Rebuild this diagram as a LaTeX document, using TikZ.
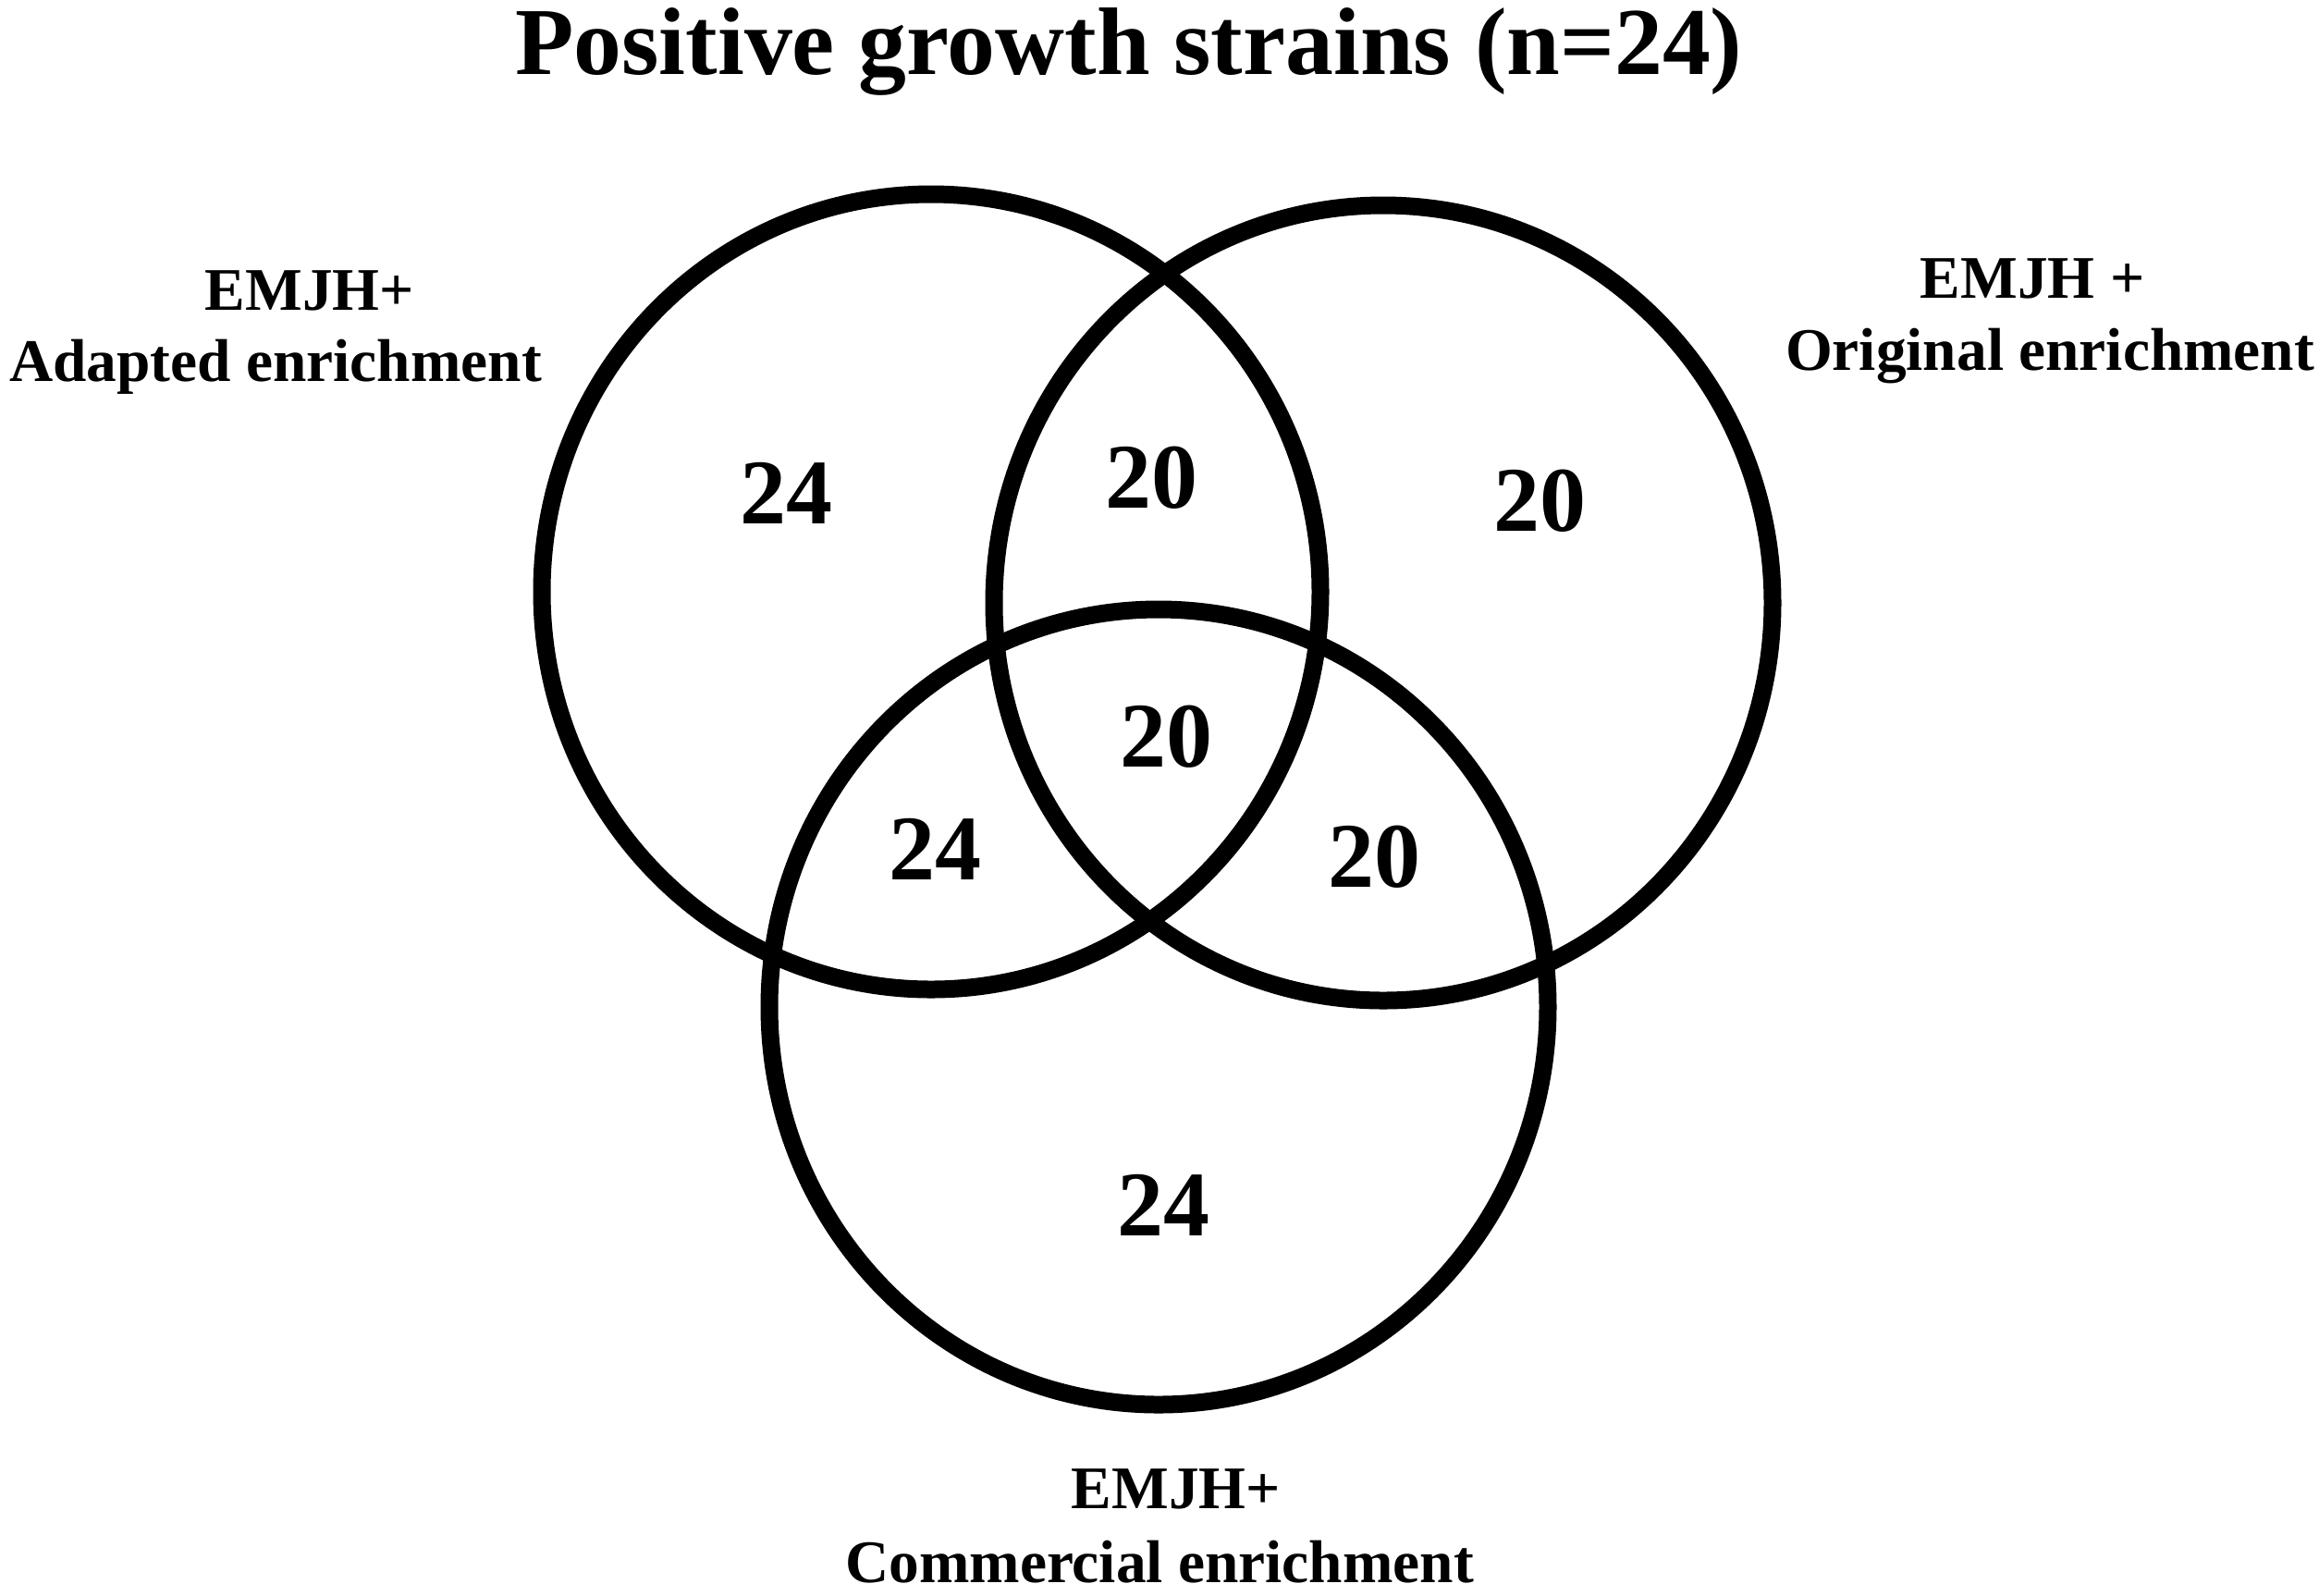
\documentclass[tikz,border=0pt]{standalone}
\usepackage{fontspec}
\setmainfont{Liberation Serif}
\begin{document}
\begin{tikzpicture}[
  ring/.style={draw=black, line width=0.19cm},
  numtxt/.style={font=\fontsize{28.45}{30}\selectfont\bfseries, inner sep=0, anchor=base},
  labtxt/.style={font=\fontsize{18.6}{20}\selectfont\bfseries, inner sep=0, anchor=base},
  titletxt/.style={font=\fontsize{29.5}{31}\selectfont\bfseries, inner sep=0, anchor=base}
]
\useasboundingbox[fill=white] (0,0) rectangle (25.08,-17.25);

% circle centres
\coordinate (A) at (10.07,-6.40);
\coordinate (B) at (14.96,-6.52);
\coordinate (C) at (12.53,-10.89);

\draw[ring] (A) ellipse [x radius=4.21cm, y radius=4.30cm];
\draw[ring] (B) ellipse [x radius=4.21cm, y radius=4.30cm];
\draw[ring] (C) ellipse [x radius=4.21cm, y radius=4.30cm];

% title
\node[titletxt] (title) at (12.21,-0.80) {Positive growth strains (n=24)};

% set labels
\node[labtxt] (la1) at (3.35,-3.35) {EMJH+};
\node[labtxt] (la2) at (2.98,-4.12) {Adapted enrichment};
\node[labtxt] (lb1) at (21.98,-3.22) {EMJH +};
\node[labtxt] (lb2) at (22.17,-4.00) {Original enrichment};
\node[labtxt] (lc1) at (12.72,-16.31) {EMJH+};
\node[labtxt] (lc2) at (12.54,-17.11) {Commercial enrichment};

% region counts
\node[numtxt] (nA) at (8.50,-5.66) {24};
\node[numtxt] (nAB) at (12.45,-5.49) {20};
\node[numtxt] (nB) at (16.65,-5.74) {20};
\node[numtxt] (nABC) at (12.61,-8.29) {20};
\node[numtxt] (nAC) at (10.11,-9.51) {24};
\node[numtxt] (nBC) at (14.86,-9.59) {20};
\node[numtxt] (nC) at (12.58,-13.36) {24};
\end{tikzpicture}
\end{document}
